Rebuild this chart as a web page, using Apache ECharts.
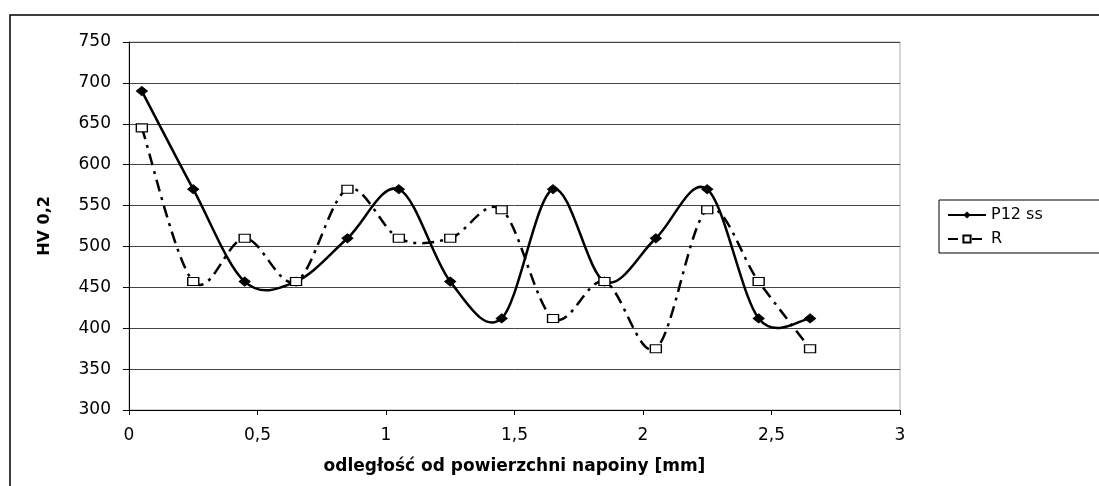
<!DOCTYPE html>
<html>
<head>
<meta charset="utf-8">
<script src="https://cdn.jsdelivr.net/npm/echarts@6/dist/echarts.min.js"></script>
<style>
  html, body { margin: 0; padding: 0; background: #fff; }
  #chart { width: 1099px; height: 486px; }
</style>
</head>
<body>
<div id="chart"></div>
<script>
const distances = [0.05, 0.25, 0.45, 0.65, 0.85, 1.05, 1.25, 1.45, 1.65, 1.85, 2.05, 2.25, 2.45, 2.65]
const p12ss = [690, 570, 457, 457, 510, 570, 457, 412, 570, 457, 510, 570, 412, 412]
const rValues = [645, 457, 510, 457, 570, 510, 510, 545, 412, 457, 375, 545, 457, 375]
const seriesNames = ['P12 ss', 'R']
const xTitle = 'odległość od powierzchni napoiny [mm]'
const yTitle = 'HV 0,2'

const pairs = (ys) => distances.map((x, i) => [x, ys[i]])
const font = 'DejaVu Sans'
const rDash = [12, 6, 3, 6]

// Excel-like smoothed curve (Catmull-Rom through the points), drawn via axis coords
function curve (ys, dash) {
  return function (params, api) {
    if (params.dataIndex !== 0) return null
    const p = ys.map((y, i) => api.coord([distances[i], y]))
    const n = p.length
    let d = 'M' + p[0][0] + ',' + p[0][1]
    for (let i = 0; i < n - 1; i++) {
      const a = p[Math.max(i - 1, 0)]
      const b = p[i]
      const c = p[i + 1]
      const e = p[Math.min(i + 2, n - 1)]
      const c1x = b[0] + (c[0] - a[0]) / 6
      const c1y = b[1] + (c[1] - a[1]) / 6
      const c2x = c[0] - (e[0] - b[0]) / 6
      const c2y = c[1] - (e[1] - b[1]) / 6
      d += ' C' + c1x + ',' + c1y + ' ' + c2x + ',' + c2y + ' ' + c[0] + ',' + c[1]
    }
    return {
      type: 'path',
      shape: { pathData: d },
      style: { fill: 'none', stroke: '#000', lineWidth: 2.5, lineDash: dash || null }
    }
  }
}

const chart = echarts.init(document.getElementById('chart'))
const option = {
  animation: false,
  backgroundColor: '#fff',
  grid: {
    left: 129,
    right: 199,
    top: 42,
    bottom: 76,
    show: true,
    borderColor: '#aaa',
    borderWidth: 1
  },
  legend: {
    orient: 'vertical',
    left: 939,
    top: 200,
    itemWidth: 38,
    itemHeight: 9,
    itemGap: 8,
    padding: [7, 60, 6, 8],
    borderColor: '#000',
    borderWidth: 1,
    textStyle: { fontFamily: font, fontSize: 16, color: '#000' },
    data: [
      { name: seriesNames[0], lineStyle: { opacity: 1, color: '#000', width: 2 } },
      { name: seriesNames[1], lineStyle: { opacity: 1, color: '#000', width: 2, type: [10, 5, 4, 5] } }
    ]
  },
  xAxis: {
    type: 'value',
    min: 0,
    max: 3,
    interval: 0.5,
    name: xTitle,
    nameLocation: 'middle',
    nameGap: 48,
    nameTextStyle: { fontFamily: font, fontSize: 17, fontWeight: 'bold', color: '#000' },
    axisLine: { lineStyle: { color: '#000', width: 1 } },
    axisTick: { show: true, length: 5, lineStyle: { color: '#000' } },
    axisLabel: {
      fontFamily: font, fontSize: 17, color: '#000', margin: 17,
      formatter: v => String(v).replace('.', ',')
    },
    splitLine: { show: false }
  },
  yAxis: {
    type: 'value',
    min: 300,
    max: 750,
    interval: 50,
    name: yTitle,
    nameLocation: 'middle',
    nameGap: 76,
    nameRotate: 90,
    nameTextStyle: { fontFamily: font, fontSize: 16, fontWeight: 'bold', color: '#000' },
    axisLine: { show: true, lineStyle: { color: '#000', width: 1 } },
    axisTick: { show: true, length: 6, lineStyle: { color: '#000' } },
    axisLabel: { fontFamily: font, fontSize: 17, color: '#000', margin: 18 },
    splitLine: { show: true, lineStyle: { color: '#444', width: 1 } }
  },
  series: [
    {
      name: 'P12 ss curve',
      type: 'custom',
      data: pairs(p12ss),
      encode: { x: 0, y: 1 },
      renderItem: curve(p12ss),
      silent: true,
      z: 2
    },
    {
      name: 'R curve',
      type: 'custom',
      data: pairs(rValues),
      encode: { x: 0, y: 1 },
      renderItem: curve(rValues, rDash),
      silent: true,
      z: 2
    },
    {
      name: seriesNames[0],
      type: 'line',
      data: pairs(p12ss),
      symbol: 'diamond',
      symbolSize: [11, 9],
      itemStyle: { color: '#000', borderColor: '#000' },
      lineStyle: { color: '#000', width: 2, opacity: 0 },
      z: 3
    },
    {
      name: seriesNames[1],
      type: 'line',
      data: pairs(rValues),
      symbol: 'rect',
      symbolSize: [11, 8],
      itemStyle: { color: '#fff', borderColor: '#000', borderWidth: 1.2 },
      lineStyle: { color: '#000', width: 2, opacity: 0 },
      z: 4
    }
  ],
  graphic: [
    {
      type: 'rect',
      shape: { x: 10, y: 15, width: 1200, height: 600 },
      style: { fill: 'none', stroke: '#000', lineWidth: 1.5 },
      silent: true
    }
  ]
}
chart.setOption(option)
window.addEventListener('resize', function () {
  chart.resize()
})
</script>
</body>
</html>
